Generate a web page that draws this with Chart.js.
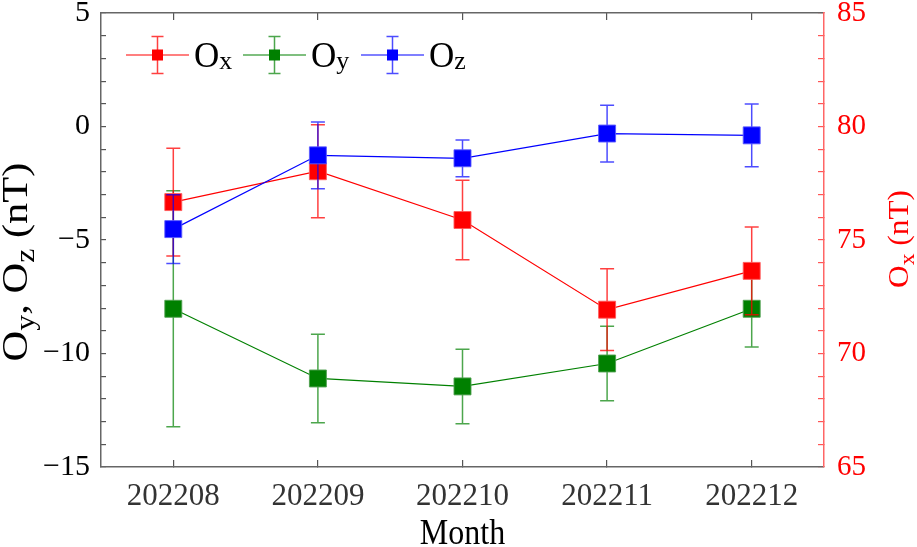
<!DOCTYPE html>
<html>
<head>
<meta charset="utf-8">
<script src="https://cdn.jsdelivr.net/npm/chart.js@4.4.0/dist/chart.umd.min.js"></script>
<style>
  html, body { margin: 0; padding: 0; background: #fff; }
  canvas { display: block; }
</style>
</head>
<body>
<canvas id="myChart" width="917" height="547"></canvas>
<script>
'use strict';
// 月ごとのカテゴリ
const months = ['202208', '202209', '202210', '202211', '202212'];
// Ox (右軸)
const oxValues = [76.67, 78.03, 75.88, 71.93, 73.64];
const oxErrors = [2.37, 2.05, 1.75, 1.80, 1.93];
// Oy (左軸)
const oyValues = [-8.03, -11.10, -11.45, -10.44, -8.03];
const oyErrors = [5.20, 1.95, 1.64, 1.64, 1.68];
// Oz (左軸)
const ozValues = [-4.52, -1.27, -1.40, -0.31, -0.39];
const ozErrors = [1.51, 1.47, 0.81, 1.25, 1.38];
// 目盛りラベル
const leftTicks = [-15, -10, -5, 0, 5];
const rightTicks = [65, 70, 75, 80, 85];

const SERIF = "'Liberation Serif', 'Times New Roman', serif";

function fmt(v) {
  return v < 0 ? '\u2212' + Math.abs(v) : String(v);
}

// 下付き文字を含むテキストの幅
function richWidth(ctx, parts, size) {
  let w = 0;
  parts.forEach(p => {
    ctx.font = Math.round(p[1] ? size * 0.75 : size) + 'px ' + SERIF;
    w += ctx.measureText(p[0]).width;
  });
  return w;
}

// 原点から左揃え・ベースラインで描く（subDyは下付きのずれ）
function drawRich(ctx, parts, size, color, subDy) {
  let x = 0;
  ctx.fillStyle = color;
  ctx.textBaseline = 'alphabetic';
  ctx.textAlign = 'left';
  parts.forEach(p => {
    ctx.font = Math.round(p[1] ? size * 0.75 : size) + 'px ' + SERIF;
    ctx.fillText(p[0], x, p[1] ? subDy : 0);
    x += ctx.measureText(p[0]).width;
  });
}

// エラーバー（各データセットの描画直前）
const errorBarPlugin = {
  id: 'errorBars',
  beforeDatasetDraw(chart, args) {
    const ds = chart.data.datasets[args.index];
    const meta = args.meta;
    const yScale = chart.scales[meta.yAxisID];
    const ctx = chart.ctx;
    ctx.save();
    ctx.strokeStyle = ds.errorColor;
    ctx.lineWidth = 1.5;
    meta.data.forEach((pt, i) => {
      const v = ds.data[i];
      const e = ds.errors[i];
      const yTop = yScale.getPixelForValue(v + e);
      const yBot = yScale.getPixelForValue(v - e);
      const x = pt.x;
      ctx.beginPath();
      ctx.moveTo(x, yTop); ctx.lineTo(x, yBot);
      ctx.moveTo(x - 7, yTop); ctx.lineTo(x + 7, yTop);
      ctx.moveTo(x - 7, yBot); ctx.lineTo(x + 7, yBot);
      ctx.stroke();
    });
    ctx.restore();
  }
};

// 凡例と軸タイトル
const textPlugin = {
  id: 'texts',
  afterDraw(chart) {
    const ctx = chart.ctx;
    const area = chart.chartArea;

    // 凡例
    const legendX = [126, 243, 361];
    const legendY = 55;
    chart.data.datasets.forEach((ds, i) => {
      const x0 = legendX[i];
      const cx = x0 + 31.5;
      ctx.save();
      ctx.strokeStyle = ds.borderColor;
      ctx.lineWidth = 1.2;
      ctx.beginPath();
      ctx.moveTo(x0, legendY); ctx.lineTo(x0 + 63, legendY);
      ctx.stroke();
      ctx.strokeStyle = ds.errorColor;
      ctx.lineWidth = 1.5;
      ctx.beginPath();
      ctx.moveTo(cx, legendY - 18.5); ctx.lineTo(cx, legendY + 18.5);
      ctx.moveTo(cx - 6, legendY - 18.5); ctx.lineTo(cx + 6, legendY - 18.5);
      ctx.moveTo(cx - 6, legendY + 18.5); ctx.lineTo(cx + 6, legendY + 18.5);
      ctx.stroke();
      ctx.fillStyle = ds.backgroundColor;
      ctx.fillRect(cx - 5.5, legendY - 5.5, 11, 11);
      ctx.translate(x0 + 68, 67);
      drawRich(ctx, [['O', false], [ds.label.slice(1), true]], 35, '#000', 1.5);
      ctx.restore();
    });

    // x軸タイトル
    ctx.save();
    ctx.font = '32px ' + SERIF;
    const mw = ctx.measureText('Month').width;
    ctx.translate((area.left + area.right) / 2 - mw / 2, 544);
    ctx.scale(1, 1.15);
    drawRich(ctx, [['Month', false]], 32, '#000', 0);
    ctx.restore();

    // 左軸タイトル
    const leftParts = [['O', false], ['y', true], [', O', false], ['z', true], [' (nT)', false]];
    ctx.save();
    const lw = richWidth(ctx, leftParts, 36);
    ctx.translate(27, 262);
    ctx.scale(1, 1.18);
    ctx.rotate(-Math.PI / 2);
    ctx.translate(-lw / 2, 0);
    drawRich(ctx, leftParts, 36, '#000', 7);
    ctx.restore();

    // 右軸タイトル
    const rightParts = [['O', false], ['x', true], [' (nT)', false]];
    ctx.save();
    const rw = richWidth(ctx, rightParts, 29);
    ctx.translate(908, 239);
    ctx.scale(1, 1.08);
    ctx.rotate(-Math.PI / 2);
    ctx.translate(-rw / 2, 0);
    drawRich(ctx, rightParts, 29, '#ff0000', 6);
    ctx.restore();
  }
};

const data = {
  labels: months,
  datasets: [
    {
      label: 'Ox',
      data: oxValues,
      errors: oxErrors,
      yAxisID: 'yRight',
      borderColor: '#ff0000',
      backgroundColor: '#ff0000',
      errorColor: 'rgba(255,0,0,0.75)',
      pointBorderColor: 'rgba(255,90,90,0.9)',
      order: 2
    },
    {
      label: 'Oy',
      data: oyValues,
      errors: oyErrors,
      yAxisID: 'y',
      borderColor: '#008000',
      backgroundColor: '#008000',
      errorColor: 'rgba(0,128,0,0.7)',
      pointBorderColor: 'rgba(80,160,80,0.9)',
      order: 3
    },
    {
      label: 'Oz',
      data: ozValues,
      errors: ozErrors,
      yAxisID: 'y',
      borderColor: '#0000ff',
      backgroundColor: '#0000ff',
      errorColor: 'rgba(0,0,255,0.7)',
      pointBorderColor: 'rgba(90,90,255,0.9)',
      order: 1
    }
  ]
};

const config = {
  type: 'line',
  data: data,
  options: {
    responsive: false,
    animation: false,
    devicePixelRatio: 1,
    layout: { padding: 0 },
    elements: {
      line: { borderWidth: 1.2, tension: 0 },
      point: { pointStyle: 'rect', radius: 12, borderWidth: 1 }
    },
    plugins: {
      legend: { display: false },
      tooltip: { enabled: false }
    },
    scales: {
      x: {
        type: 'category',
        position: 'bottom',
        offset: true,
        grid: { drawOnChartArea: false, offset: false, tickLength: -7, color: '#555', lineWidth: 1.2 },
        border: { color: '#666', width: 1.5 },
        ticks: { font: { family: SERIF, size: 31 }, color: '#333', padding: 18, maxRotation: 0, autoSkip: false },
        afterFit(s) { s.height = 80; s.paddingLeft = 0; s.paddingRight = 0; }
      },
      xTop: {
        type: 'category',
        position: 'top',
        offset: true,
        grid: { drawOnChartArea: false, offset: false, tickLength: -7, color: '#555', lineWidth: 1.2 },
        border: { color: '#666', width: 1.5 },
        ticks: { display: false },
        afterFit(s) { s.height = 11; s.paddingLeft = 0; s.paddingRight = 0; }
      },
      y: {
        position: 'left',
        min: -15,
        max: 5,
        grid: { drawOnChartArea: false, tickLength: -5, color: '#555', lineWidth: 1.2 },
        border: { color: '#666', width: 1.5 },
        ticks: {
          stepSize: 1,
          autoSkip: false,
          font: { family: SERIF, size: 30 },
          color: '#000',
          padding: 16,
          callback: v => leftTicks.includes(v) ? fmt(v) : ''
        },
        afterFit(s) { s.width = 101; s.paddingTop = 0; s.paddingBottom = 0; }
      },
      yRight: {
        position: 'right',
        min: 65,
        max: 85,
        grid: { drawOnChartArea: false, tickLength: -6, color: '#ff5555', lineWidth: 1.2 },
        border: { color: '#ff6666', width: 1.5 },
        ticks: {
          stepSize: 1,
          autoSkip: false,
          font: { family: SERIF, size: 29 },
          color: '#ff0000',
          padding: 19,
          callback: v => rightTicks.includes(v) ? String(v) : ''
        },
        afterFit(s) { s.width = 93; s.paddingTop = 0; s.paddingBottom = 0; }
      }
    }
  },
  plugins: [errorBarPlugin, textPlugin]
};

const myChart = new Chart(document.getElementById('myChart'), config);
</script>
</body>
</html>
